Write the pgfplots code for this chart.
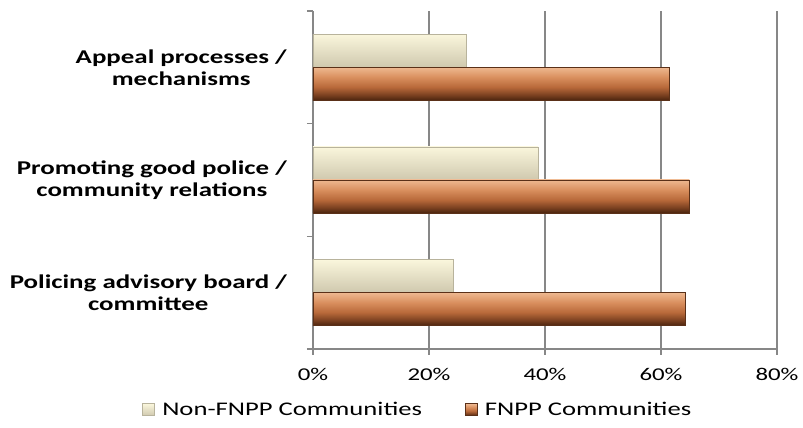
\documentclass[border=0pt]{standalone}
\usepackage{fontspec}
\setmainfont{Carlito}[FakeStretch=1.38]
\usepackage{pgfplots}
\pgfplotsset{compat=1.18}
\definecolor{gridgray}{HTML}{878787}
\definecolor{nonTop}{HTML}{FAF6DC}
\definecolor{nonMid}{HTML}{E4DECA}
\definecolor{nonBot}{HTML}{CFC8AE}
\definecolor{nonEdge}{HTML}{B8B39C}
\definecolor{fA}{HTML}{4A240E}
\definecolor{fB}{HTML}{7A4020}
\definecolor{fC}{HTML}{B8693A}
\definecolor{fD}{HTML}{D98F5E}
\definecolor{fE}{HTML}{EEB890}
\definecolor{fEdge}{HTML}{5A3018}
\pgfdeclareverticalshading{fnppshade}{100bp}{color(0bp)=(fA); color(25bp)=(fA); color(33bp)=(fB); color(45bp)=(fC); color(60bp)=(fD); color(75bp)=(fE); color(100bp)=(fE)}
\pgfplotsset{
  nonbar/.style={xbar, bar width=33pt, bar shift=16.5pt, draw=nonEdge, line width=0.8pt,
     top color=nonTop, middle color=nonMid, bottom color=nonBot},
  fbar/.style={xbar, bar width=33pt, bar shift=-16.5pt, draw=fEdge, line width=0.8pt,
     fill=fC, shading=fnppshade},
}
\begin{document}
\begin{tikzpicture}
\path[use as bounding box] (0,0) rectangle (803pt,428pt);
\begin{axis}[
  at={(313pt,79pt)}, anchor=south west,
  scale only axis,
  width=464pt, height=338pt,
  xmin=0, xmax=80,
  ymin=-0.5, ymax=2.5,
  axis x line*=bottom, axis y line*=left,
  axis line style={draw=gridgray, line width=1.2pt},
  xtick={0,20,40,60,80},
  xticklabels={0\%,20\%,40\%,60\%,80\%},
  xmajorgrids,
  grid style={draw=gridgray, line width=1.2pt},
  tick align=outside,
  major tick length=6pt,
  tick style={draw=gridgray, line width=1.2pt},
  xticklabel style={font=\fontsize{18}{21}\selectfont, inner sep=0pt, yshift=-13pt},
  ytick={-0.5,0.5,1.5,2.5},
  yticklabels={},
  extra y ticks={0,1,2},
  extra y tick labels={Policing advisory board /\\committee, Promoting good police /\\community relations, Appeal processes /\\mechanisms},
  extra y tick style={major tick length=0pt, yticklabel style={align=center, inner sep=0pt, anchor=east, xshift=-26pt, font=\bfseries\fontsize{19.5}{22}\selectfont}},
  legend columns=2,
  legend style={draw=none, at={(0.226,-0.18)}, anchor=center,
    font=\fontsize{19.3}{22}\selectfont,
    /tikz/every odd column/.append style={column sep=5pt},
    /tikz/every even column/.append style={column sep=41pt}},
  legend image code/.code={\draw[#1] (0pt,-6pt) rectangle (12pt,6pt);},
]
% Non-FNPP Communities
\addplot[nonbar] coordinates {(24.2,0)};
\addlegendentry{Non-FNPP Communities}
% FNPP Communities
\addplot[fbar] coordinates {(64.2,0)};
\addlegendentry{FNPP Communities}
\addplot[nonbar, forget plot] coordinates {(38.8,1)};
\addplot[nonbar, forget plot] coordinates {(26.4,2)};
\addplot[fbar, forget plot] coordinates {(64.9,1)};
\addplot[fbar, forget plot] coordinates {(61.4,2)};
\end{axis}
\end{tikzpicture}
\end{document}
